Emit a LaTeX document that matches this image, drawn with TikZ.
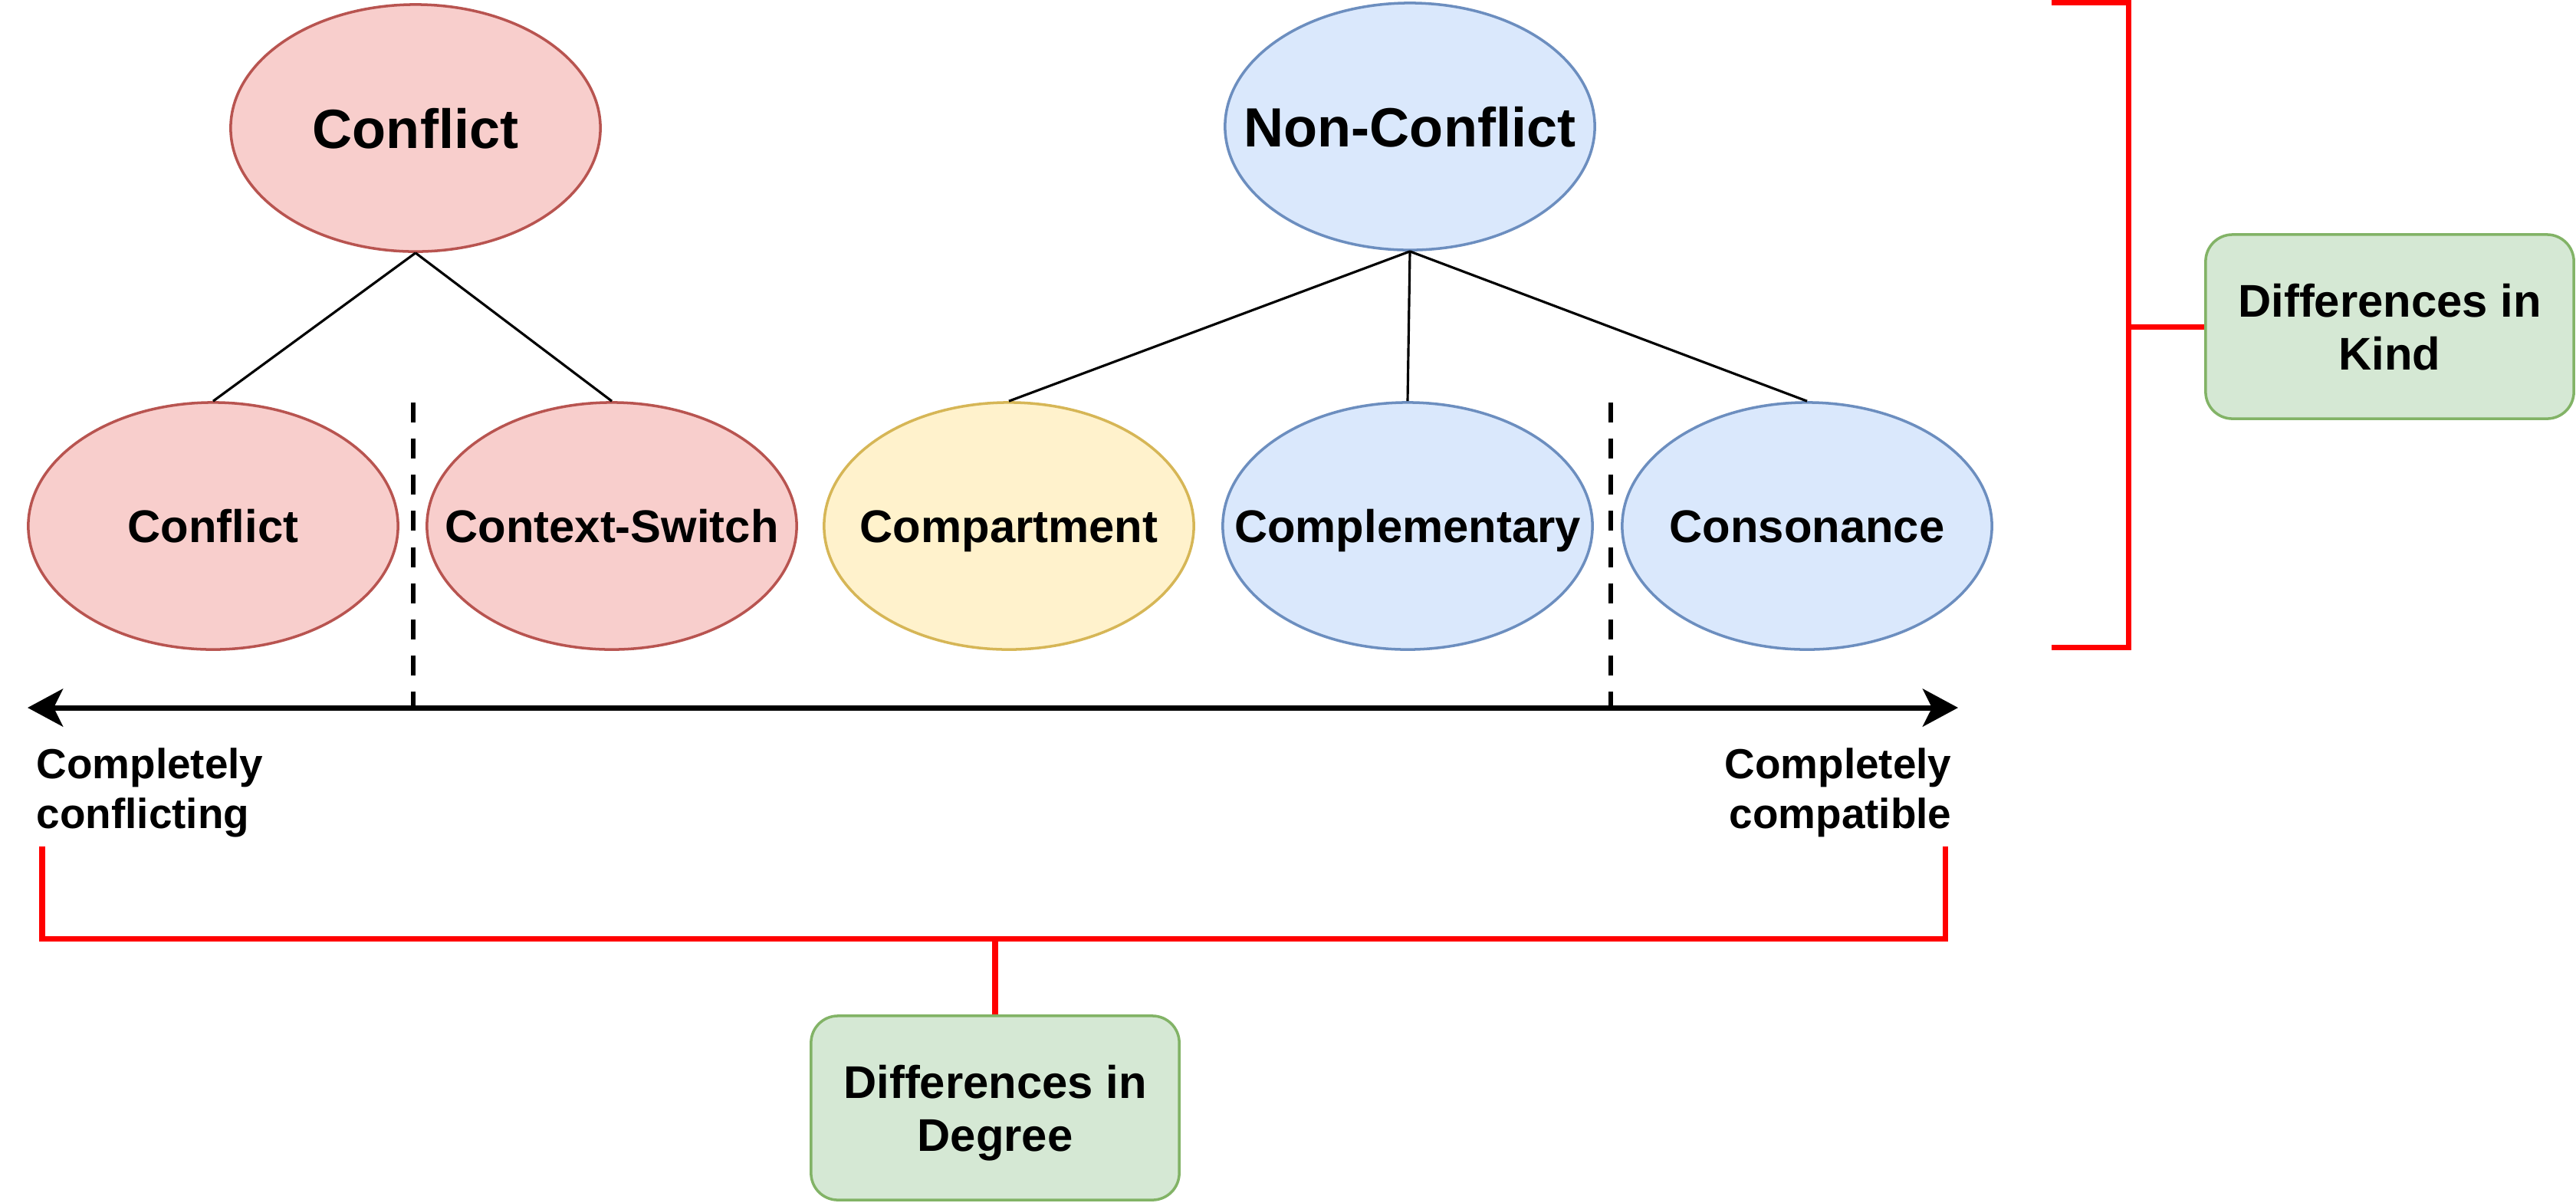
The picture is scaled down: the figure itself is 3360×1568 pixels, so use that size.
\documentclass[tikz,border=0pt]{standalone}
\usepackage{fontspec}
\setmainfont{Liberation Sans}
\usetikzlibrary{shapes.geometric,arrows.meta}
\definecolor{redfill}{HTML}{F8CECC}
\definecolor{redline}{HTML}{B85450}
\definecolor{bluefill}{HTML}{DAE8FC}
\definecolor{blueline}{HTML}{6C8EBF}
\definecolor{yelfill}{HTML}{FFF2CC}
\definecolor{yelline}{HTML}{D6B656}
\definecolor{grnfill}{HTML}{D5E8D4}
\definecolor{grnline}{HTML}{82B366}
\definecolor{brk}{HTML}{FF0000}
\begin{document}
\begin{tikzpicture}[x=0.01cm,y=-0.01cm,
  ell/.style={ellipse, draw, line width=1pt, minimum width=4.82cm, minimum height=3.22cm,
    inner sep=0pt, label={[inner sep=0pt, text height=12.4pt, text depth=0pt, font=\fontsize{17}{20}\selectfont\bfseries]center:#1}},
  bigell/.style={ellipse, draw, line width=1pt, minimum width=4.82cm, minimum height=3.22cm,
    inner sep=0pt, label={[inner sep=0pt, text height=15pt, text depth=0pt, font=\fontsize{20.5}{24}\selectfont\bfseries]center:#1}},
  redst/.style={fill=redfill, draw=redline},
  bluest/.style={fill=bluefill, draw=blueline},
  yelst/.style={fill=yelfill, draw=yelline},
  gbox/.style={rectangle, rounded corners=0.35cm, draw=grnline, fill=grnfill, line width=1pt,
    minimum width=4.8cm, minimum height=2.4cm, align=center, inner sep=0pt, text depth=0pt,
    font=\fontsize{17}{19.6}\selectfont\bfseries},
  link/.style={line width=0.9pt},
  bracket/.style={draw=brk, line width=2pt},
  divider/.style={line width=1.7pt, dash pattern=on 7.4pt off 6pt},
  axis/.style={line width=2pt, {Stealth[length=4.6mm,width=4.9mm,inset=1.2mm]}-{Stealth[length=4.6mm,width=4.9mm,inset=1.2mm]}},
  axlabel/.style={inner sep=0pt, font=\fontsize{15.6}{18.5}\selectfont\bfseries}
]
\useasboundingbox (0,0) rectangle (3360,1568);

% top-level nodes
\node[bigell={Conflict},redst] (conflict) at (542,167) {};
\node[bigell={Non-Conflict},bluest] (nonconflict) at (1839,165) {};

% second level
\node[ell={Conflict},redst] (c1) at (278,686) {};
\node[ell={Context-Switch},redst] (c2) at (798,686) {};
\node[ell={Compartment},yelst] (n1) at (1316,686) {};
\node[ell={Complementary},bluest] (n2) at (1836,686) {};
\node[ell={Consonance},bluest] (n3) at (2357,686) {};

% tree links
\draw[link] (conflict.south) -- (c1.north);
\draw[link] (conflict.south) -- (c2.north);
\draw[link] (nonconflict.south) -- (n1.north);
\draw[link] (nonconflict.south) -- (n2.north);
\draw[link] (nonconflict.south) -- (n3.north);

% axis
\coordinate (axL) at (36,923);
\coordinate (axR) at (2554,923);
\draw[axis] (axL) -- (axR);

% dividers
\coordinate (d1t) at (539,525);
\coordinate (d1b) at (539,923);
\coordinate (d2t) at (2101,525);
\coordinate (d2b) at (2101,923);
\draw[divider] (d1t) -- (d1b);
\draw[divider] (d2t) -- (d2b);

% axis labels
\node[axlabel, anchor=west, align=left] (lblL) at (47,1034) {Completely\\conflicting};
\node[axlabel, anchor=east, align=right] (lblR) at (2546,1034) {Completely\\compatible};

% green boxes
\node[gbox] (kind) at (3117,426) {Differences in\\Kind};
\node[gbox] (degree) at (1298,1445) {Differences in\\Degree};

% right bracket
\coordinate (k1) at (2676,3);
\coordinate (k2) at (2776,3);
\coordinate (k3) at (2776,844);
\coordinate (k4) at (2676,844);
\coordinate (km) at (2776,426);
\draw[bracket] (k1) -- (k2) -- (k3) -- (k4);
\draw[bracket] (km) -- (kind.west);

% bottom bracket
\coordinate (b1) at (55,1104);
\coordinate (b2) at (55,1224);
\coordinate (b3) at (2537,1224);
\coordinate (b4) at (2537,1104);
\draw[bracket] (b1) -- (b2) -- (b3) -- (b4);
\draw[bracket] (degree.north) -- (degree.north |- b2);
\end{tikzpicture}
\end{document}
